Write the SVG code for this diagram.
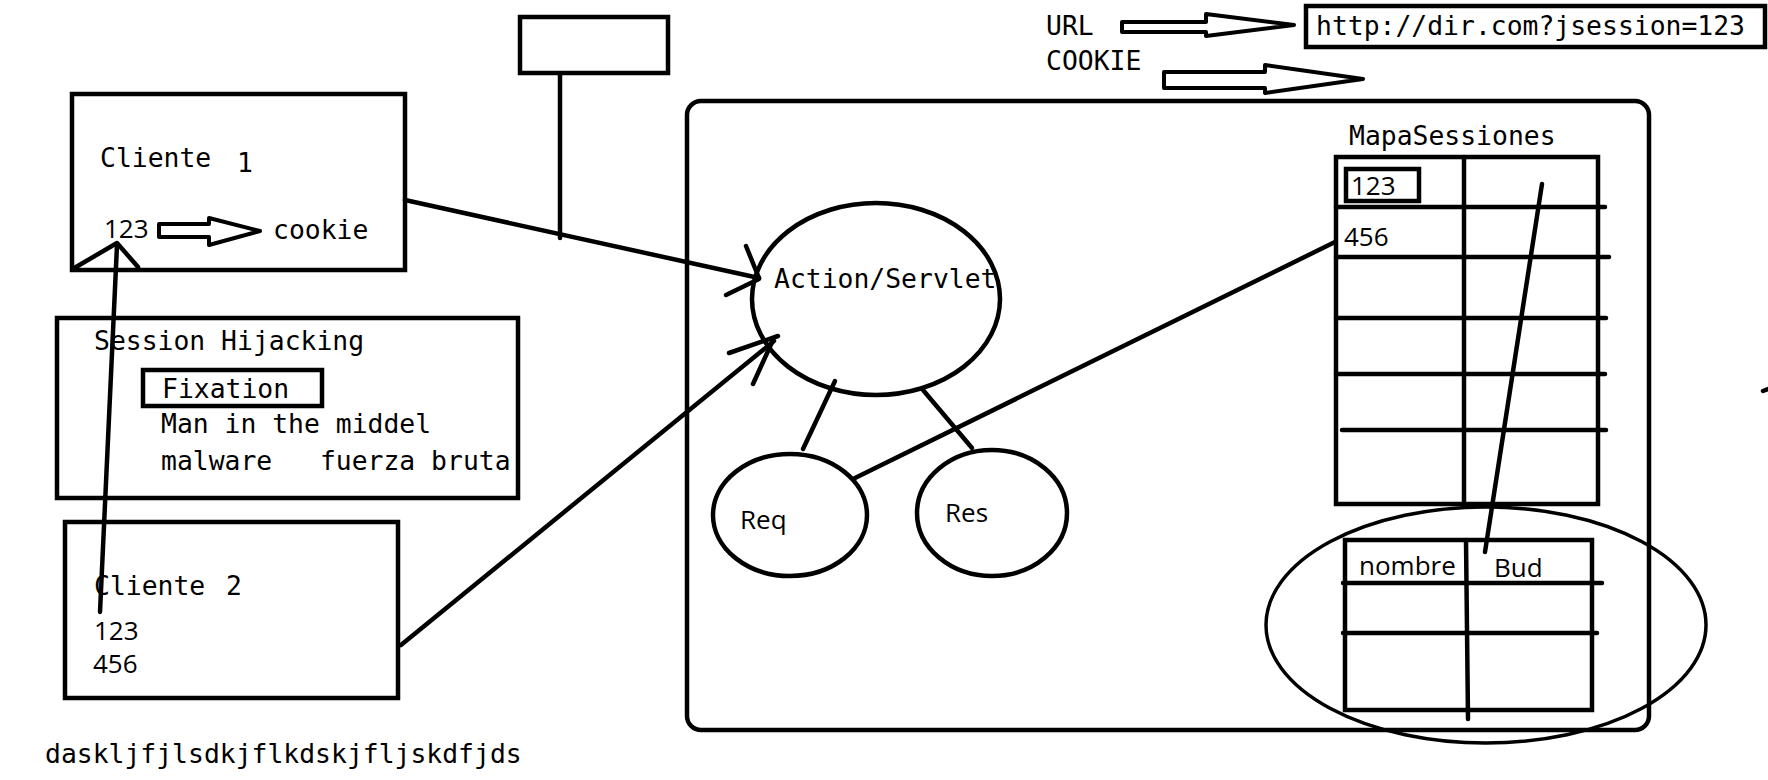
<svg xmlns="http://www.w3.org/2000/svg" width="1768" height="780" viewBox="0 0 1768 780">
<style>
  .bg { fill: #ffffff; }
  .box { fill: none; stroke: #000; stroke-width: 4.5; }
  .ln { fill: none; stroke: #000; stroke-width: 4.5; stroke-linecap: round; stroke-linejoin: round; }
  .thin { fill: none; stroke: #000; stroke-width: 3.5; }
  .harrow { fill: #fff; stroke: #000; stroke-width: 4; stroke-linejoin: round; }
  .m { font-family: "DejaVu Sans Mono", "Liberation Mono", monospace; font-size: 26.4px; fill: #000; }
  .s { font-family: "Open Sans", "Noto Sans", sans-serif; font-size: 26px; fill: #000; }
</style>
<rect class="bg" x="0" y="0" width="1768" height="780"/>

<g id="connectors">
  <!-- Cliente 1 to Action/Servlet -->
  <line class="ln" x1="405" y1="200" x2="759" y2="278"/>
  <line class="ln" x1="746" y1="246" x2="759" y2="278"/>
  <line class="ln" x1="726" y1="295" x2="759" y2="279"/>
  <!-- top box stem -->
  <line class="ln" x1="560" y1="74" x2="560" y2="238"/>
  <!-- Cliente 2 to Action/Servlet -->
  <line class="ln" x1="401" y1="645" x2="774" y2="341"/>
  <line class="ln" x1="729" y1="353" x2="778" y2="336"/>
  <line class="ln" x1="753" y1="384" x2="773" y2="340"/>
  <!-- Cliente 2 up to Cliente 1 -->
  <line class="ln" x1="100" y1="612" x2="117" y2="245"/>
  <polyline class="ln" points="76,267 117,243 138,267"/>
  <!-- Action to Req / Res -->
  <line class="ln" x1="835" y1="381" x2="803" y2="449"/>
  <line class="ln" x1="923" y1="390" x2="972" y2="448"/>
  <!-- Req to table row 456 -->
  <line class="ln" x1="853" y1="479" x2="1335" y2="242"/>
  <!-- table to session object -->
  <line class="ln" x1="1542" y1="184" x2="1485" y2="552"/>
  <!-- small mark at right edge -->
  <line class="ln" x1="1763" y1="391" x2="1768" y2="389"/>
</g>

<g id="top-box">
  <rect class="box" x="520" y="17" width="148" height="56"/>
</g>

<g id="cliente1">
  <rect class="box" x="72" y="94" width="333" height="176"/>
  <text class="m" x="100" y="167">Cliente</text>
  <text class="m" x="237" y="172">1</text>
  <text class="s" x="104" y="238">123</text>
  <polygon class="harrow" points="159,224 209,224 209,218 260,231 209,245 209,237 159,237"/>
  <text class="m" x="273" y="239">cookie</text>
</g>

<g id="session-hijacking">
  <rect class="box" x="57" y="318" width="461" height="180"/>
  <text class="m" x="94" y="350">Session Hijacking</text>
  <rect class="box" x="143" y="370" width="179" height="36"/>
  <text class="m" x="162" y="398">Fixation</text>
  <text class="m" x="161" y="433">Man in the middel</text>
  <text class="m" x="161" y="470" xml:space="preserve">malware   fuerza bruta</text>
</g>

<g id="cliente2">
  <rect class="box" x="65" y="522" width="333" height="176"/>
  <text class="m" x="94" y="595">Cliente <tspan dx="5">2</tspan></text>
  <text class="s" x="94" y="640">123</text>
  <text class="s" x="93" y="673">456</text>
</g>

<g id="footer-text">
  <text class="m" x="45" y="763">daskljfjlsdkjflkdskjfljskdfjds</text>
</g>

<g id="legend">
  <text class="m" x="1046" y="35">URL</text>
  <polygon class="harrow" points="1122,22 1206,22 1206,14 1294,25 1206,36 1206,32 1122,32"/>
  <text class="m" x="1046" y="70">COOKIE</text>
  <polygon class="harrow" points="1164,72 1265,72 1265,65 1363,79 1265,93 1265,88 1164,88"/>
  <rect class="box" x="1306" y="6" width="459" height="41"/>
  <text class="m" x="1316" y="35">http://dir.com?jsession=123</text>
</g>

<g id="server">
  <rect class="box" x="687" y="101" width="962" height="629" rx="14" ry="14"/>
</g>

<g id="action-servlet">
  <ellipse class="box" cx="876" cy="299" rx="124" ry="96"/>
  <text class="m" x="774" y="288">Action/Servlet</text>
</g>

<g id="req">
  <ellipse class="box" cx="790" cy="515" rx="77" ry="61"/>
  <text class="s" x="740" y="529">Req</text>
</g>

<g id="res">
  <ellipse class="box" cx="992" cy="513" rx="75" ry="63"/>
  <text class="s" x="945" y="522">Res</text>
</g>

<g id="mapa-sesiones">
  <text class="m" x="1349" y="145">MapaSessiones</text>
  <rect class="box" x="1336" y="157" width="262" height="347"/>
  <line class="ln" x1="1464" y1="157" x2="1464" y2="504"/>
  <line class="ln" x1="1336" y1="207" x2="1605" y2="207"/>
  <line class="ln" x1="1336" y1="257" x2="1609" y2="257"/>
  <line class="ln" x1="1336" y1="318" x2="1606" y2="318"/>
  <line class="ln" x1="1336" y1="374" x2="1605" y2="374"/>
  <line class="ln" x1="1342" y1="430" x2="1606" y2="430"/>
  <rect class="box" x="1346" y="169" width="73" height="32"/>
  <text class="s" x="1351" y="195">123</text>
  <text class="s" x="1344" y="246">456</text>
</g>

<g id="session-object">
  <ellipse class="thin" cx="1486" cy="625" rx="220" ry="118"/>
  <rect class="box" x="1345" y="540" width="247" height="170"/>
  <line class="ln" x1="1466" y1="540" x2="1468" y2="719"/>
  <line class="ln" x1="1343" y1="583" x2="1602" y2="583"/>
  <line class="ln" x1="1343" y1="633" x2="1597" y2="633"/>
  <text class="s" x="1359" y="575">nombre</text>
  <text class="s" x="1494" y="577">Bud</text>
</g>
</svg>
